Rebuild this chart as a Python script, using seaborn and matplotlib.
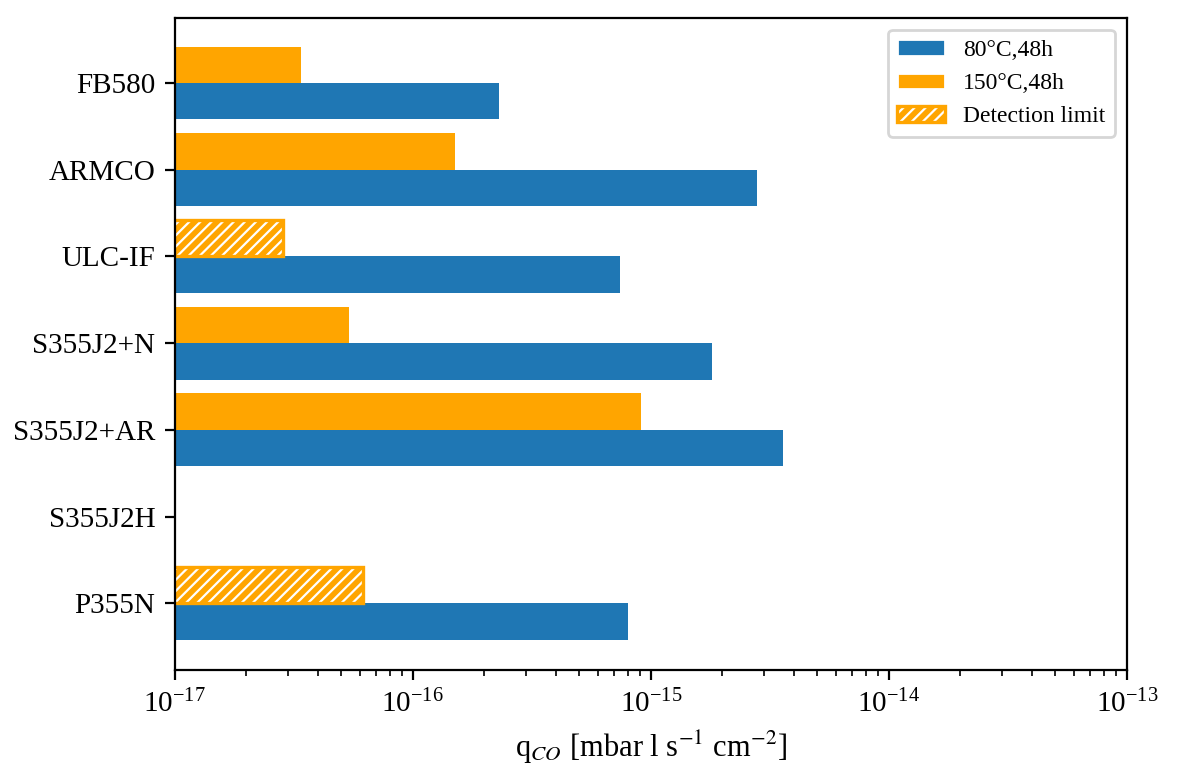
import numpy as np
import pandas as pd
import matplotlib
matplotlib.use("Agg")
import matplotlib.pyplot as plt
import matplotlib.patches as mpatches
import matplotlib.ticker as mticker
from matplotlib.legend_handler import HandlerTuple
import seaborn as sns

# -------------------------------------------------------
# Data
# -------------------------------------------------------
materials = ["FB580", "ARMCO", "ULC-IF", "S355J2+N", "S355J2+AR", "S355J2H", "P355N"]
q_80C = [2.3e-16, 2.8e-15, 7.4e-16, 1.8e-15, 3.6e-15, np.nan, 8.0e-16]
q_150C = [3.4e-17, 1.5e-16, 2.85e-17, 5.4e-17, 9.1e-16, np.nan, 6.2e-17]
detection_limit = [False, False, True, False, False, False, True]

label_80 = "80°C,48h"
label_150 = "150°C,48h"
label_dl = "Detection limit"

BLUE = "#1f77b4"
ORANGE = "#ffa500"
HATCH = "/" * 6

sns.set_style("ticks", {"axes.edgecolor": "black", "xtick.color": "black",
                        "ytick.color": "black", "text.color": "black",
                        "axes.labelcolor": "black"})
plt.rcParams["font.family"] = ["Liberation Serif", "DejaVu Serif"]
plt.rcParams["mathtext.fontset"] = "stix"
plt.rcParams["hatch.linewidth"] = 0.8

df = pd.DataFrame({
    "material": materials * 2,
    "q": q_150C + q_80C,
    "cond": [label_150] * len(materials) + [label_80] * len(materials),
})

fig = plt.figure(figsize=(5.9, 3.9), dpi=200)
ax = fig.add_axes([0.148, 0.141, 0.807, 0.836])

sns.barplot(data=df, y="material", x="q", hue="cond", order=materials,
            hue_order=[label_150, label_80], palette=[ORANGE, BLUE],
            orient="h", width=0.84, saturation=1, ax=ax, legend=False, linewidth=0)
ax.set_xscale("log")

# hatch the detection-limit bars
orange_rgb = matplotlib.colors.to_rgb(ORANGE)
for p in list(ax.patches):
    if not np.allclose(p.get_facecolor()[:3], orange_rgb):
        continue
    idx = int(round(p.get_y() + p.get_height()))
    if 0 <= idx < len(materials) and detection_limit[idx]:
        p.set_hatch(HATCH)
        p.set_edgecolor("white")
        p.set_linewidth(0)
        ax.add_patch(mpatches.Rectangle((p.get_x(), p.get_y()), p.get_width(), p.get_height(),
                                        fill=False, edgecolor=ORANGE, linewidth=1.2,
                                        zorder=p.get_zorder() + 0.1))

ax.set_xlim(1e-17, 1e-13)
ax.set_ylim(6.77, -0.75)
ax.xaxis.set_minor_formatter(mticker.NullFormatter())
ax.set_ylabel("")
ax.set_xlabel(r"q$_{CO}$ [mbar l s$^{-1}$ cm$^{-2}$]", fontsize=11)
ax.tick_params(axis="both", labelsize=10.5)

h1 = mpatches.Patch(facecolor=BLUE, label=label_80)
h2 = mpatches.Patch(facecolor=ORANGE, label=label_150)
h3a = mpatches.Patch(facecolor=ORANGE, edgecolor="white", hatch=HATCH, linewidth=0)
h3b = mpatches.Patch(fill=False, edgecolor=ORANGE, linewidth=1.2)
ax.legend(handles=[h1, h2, (h3a, h3b)], labels=[label_80, label_150, label_dl],
          handler_map={tuple: HandlerTuple(ndivide=1, pad=0)},
          loc="upper right", fontsize=8.5, frameon=True)

fig.savefig("out.png", dpi=200)
